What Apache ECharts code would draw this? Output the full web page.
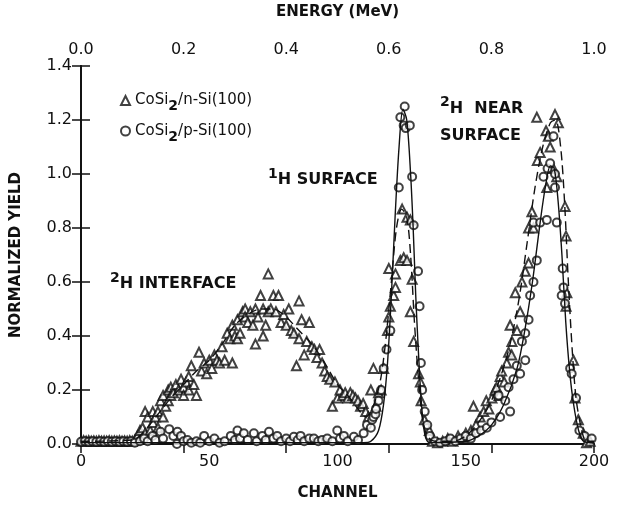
<!DOCTYPE html>
<html>
<head>
<meta charset="utf-8">
<script src="https://cdn.jsdelivr.net/npm/echarts@6/dist/echarts.min.js"></script>
<style>
  html, body { margin: 0; padding: 0; background: #fff; }
  #chart { width: 618px; height: 506px; }
</style>
</head>
<body>
<div id="chart"></div>
<script>
// [channel, normalized yield]
var triN = [
  [0,0.01],[1,0.012],[2,0.01],[3,0.012],[4,0.01],[5,0.011],[6,0.01],[7,0.012],[8,0.01],[9,0.011],
  [10,0.01],[11,0.012],[12,0.01],[13,0.011],[14,0.01],[15,0.012],[16,0.01],[17,0.011],[18,0.01],[19,0.012],
  [20,0.01],[21,0.015],[22,0.03],[23,0.05],[24,0.06],[25,0.04],[25,0.12],[26,0.1],[27,0.05],[28,0.12],
  [28,0.08],[29,0.1],[30,0.06],[30,0.12],[31,0.16],[32,0.1],[32,0.18],[33,0.14],[34,0.2],[34,0.16],
  [35,0.21],[35,0.18],[36,0.19],[37,0.22],[38,0.2],[39,0.24],[40,0.21],[40,0.18],[41,0.23],[42,0.2],
  [42,0.25],[43,0.29],[44,0.22],[45,0.18],[46,0.34],[47,0.27],[48,0.3],[49,0.26],[50,0.31],[51,0.28],
  [52,0.33],[53,0.31],[54,0.3],[55,0.36],[56,0.31],[57,0.41],[58,0.39],[59,0.44],[59,0.3],[60,0.4],
  [61,0.46],[61,0.39],[62,0.41],[63,0.49],[64,0.5],[64,0.47],[65,0.45],[66,0.49],[67,0.44],[68,0.37],
  [68,0.5],[69,0.47],[70,0.55],[71,0.4],[71,0.5],[72,0.44],[73,0.63],[73,0.49],[74,0.5],[75,0.55],
  [76,0.49],[77,0.55],[78,0.45],[79,0.48],[80,0.44],[81,0.5],[82,0.42],[83,0.41],[84,0.29],[85,0.53],
  [85,0.39],[86,0.46],[87,0.33],[88,0.38],[89,0.45],[90,0.36],[91,0.35],[92,0.32],[93,0.35],[94,0.3],
  [95,0.27],[96,0.25],[97,0.24],[98,0.14],[99,0.23],[100,0.17],[101,0.2],[102,0.18],[103,0.19],[104,0.17],
  [105,0.19],[106,0.18],[107,0.17],[108,0.16],[109,0.14],[110,0.15],[111,0.12],[112,0.1],[113,0.2],[114,0.28],
  [115,0.14],[116,0.19],[117,0.2],[118,0.28],[119.5,0.42],[120,0.47],[120,0.65],[120.6,0.51],[121.9,0.55],[122.6,0.58],
  [122.6,0.63],[124.5,0.68],[125.2,0.87],[125.8,0.69],[127.1,0.84],[127.1,0.68],[128.4,0.83],[129.1,0.61],[128.4,0.49],[129.7,0.38],
  [131.6,0.26],[132.3,0.23],[132.6,0.16],[133.9,0.09],[135.8,0.05],[137,0.01],[139,0.005],[141,0.01],[143,0.02],[145,0.01],
  [147,0.03],[149,0.02],[150,0.04],[152,0.05],[153,0.14],[154,0.07],[155.6,0.1],[157,0.12],[158,0.16],[159,0.13],
  [160.2,0.17],[161.4,0.2],[162,0.21],[163,0.18],[163.4,0.25],[164,0.27],[165,0.23],[166,0.3],[166.7,0.34],[167.9,0.33],
  [167.3,0.44],[168,0.38],[169.3,0.56],[170,0.42],[171.2,0.49],[171.9,0.6],[173.2,0.64],[174.5,0.67],[174.5,0.8],[175.8,0.86],
  [176.4,0.8],[177.7,1.21],[177.9,1.05],[179,1.08],[181.3,1.16],[181.6,0.95],[182.2,1.14],[182.9,1.1],[184.2,1.02],[184.8,1.22],
  [185.5,0.99],[186.1,1.19],[188.7,0.88],[189.1,0.77],[189.4,0.56],[189.1,0.51],[192,0.31],[192.6,0.17],[193.9,0.09],[195.8,0.04],
  [197.1,0.005],[198.5,0.01]
];
var cirP = [
  [0,0.008],[1.5,0.01],[3,0.008],[4.5,0.01],[6,0.008],[7.5,0.01],[9,0.008],[10.5,0.01],[12,0.008],[13.5,0.01],
  [15,0.008],[16.5,0.01],[18,0.008],[19.5,0.01],[21,0.005],[23,0.01],[24.6,0.02],[26,0.01],[27.9,0.03],[29,0.015],
  [31,0.045],[32,0.02],[34.4,0.055],[36,0.03],[37.6,0.045],[37.4,0.0],[39,0.03],[40,0.01],[41.5,0.015],[43,0.005],
  [45,0.01],[46.5,0.005],[48,0.03],[50,0.01],[52,0.02],[54,0.005],[56,0.01],[58.4,0.03],[60,0.015],[61,0.05],
  [62,0.02],[63.5,0.04],[65,0.015],[67.4,0.04],[68.5,0.01],[70.7,0.03],[72,0.015],[73.3,0.045],[75,0.02],[76.5,0.03],
  [78,0.01],[80,0.02],[81.5,0.01],[83,0.027],[84.5,0.015],[85.6,0.03],[87,0.01],[89,0.02],[90.8,0.02],[92.5,0.01],
  [94,0.015],[96,0.02],[98,0.01],[99.9,0.05],[101,0.02],[102.5,0.03],[104,0.01],[106.4,0.027],[108,0.015],[110.2,0.04],
  [111.5,0.07],[113,0.06],[113.5,0.09],[114,0.1],[114.8,0.11],[115,0.13],[116,0.16],[117,0.2],[118,0.28],[119.1,0.35],
  [120.6,0.42],[123.9,0.95],[124.5,1.21],[125.8,1.18],[126.2,1.25],[126.6,1.17],[128.2,1.18],[129.1,0.99],[129.7,0.81],[131.4,0.64],
  [132,0.51],[132.5,0.3],[133,0.2],[134,0.12],[135,0.07],[136,0.03],[138,0.01],[140,0.005],[142,0.01],[144,0.02],
  [146,0.01],[148,0.02],[150,0.03],[152,0.02],[154,0.04],[156,0.05],[158.2,0.06],[160,0.08],[162.8,0.18],[163.4,0.1],
  [165.4,0.16],[166.7,0.21],[167.3,0.12],[168.6,0.24],[169.9,0.29],[171.2,0.26],[171.9,0.38],[173.2,0.41],[173.2,0.31],[174.5,0.46],
  [175.1,0.55],[176.4,0.6],[176.4,0.82],[177.7,0.68],[179,0.82],[180.3,0.99],[181.6,0.83],[181.9,1.02],[182.9,1.04],[184.2,1.14],
  [184.8,1.0],[184.8,0.95],[185.5,0.82],[187.8,0.65],[188.1,0.58],[187.4,0.55],[188.7,0.52],[190.7,0.28],[191.3,0.26],[193,0.17],
  [194.3,0.05],[196.3,0.03],[199.1,0.02]
];
// fitted curves
var fitSolid = [
  [0,0.005],[40,0.005],[80,0.005],[110,0.005],[113,0.01],[116,0.05],[118,0.15],[119.5,0.3],[121,0.55],[122.5,0.85],
  [124,1.1],[125.5,1.24],[127,1.2],[128.5,1.0],[129.5,0.8],[130.5,0.55],[131.5,0.35],[132.5,0.18],[133.5,0.07],[134.5,0.02],
  [136,0.005],[150,0.01],[155,0.03],[160,0.07],[165,0.15],[170,0.28],[173,0.42],[176,0.6],[179,0.82],[181,0.95],
  [183,1.03],[184.5,1.02],[186,0.9],[187.5,0.7],[189,0.45],[190.5,0.27],[192,0.15],[194,0.05],[196,0.01],[200,0.005]
];
var fitDashed = [
  [0,0.01],[20,0.015],[24,0.04],[30,0.11],[35,0.17],[40,0.22],[45,0.27],[50,0.31],[55,0.37],[60,0.44],
  [65,0.48],[70,0.5],[75,0.5],[80,0.47],[85,0.42],[90,0.37],[95,0.3],[100,0.22],[104,0.18],[108,0.13],
  [111,0.1],[113,0.12],[115,0.17],[117,0.25],[119,0.4],[121,0.6],[123,0.8],[125,0.87],[127,0.84],[128.5,0.7],
  [130,0.45],[131.5,0.25],[133,0.1],[135,0.03],[138,0.01],[145,0.01],[150,0.03],[155,0.08],[160,0.16],[165,0.29],
  [168,0.4],[171,0.55],[174,0.75],[177,0.95],[180,1.1],[183,1.19],[185,1.2],[187,1.1],[188.5,0.9],[190,0.6],
  [191.5,0.35],[193,0.17],[195,0.06],[197,0.01],[200,0.01]
];
var seriesNames = ['CoSi2/n-Si(100)', 'CoSi2/p-Si(100)'];

var ink = '#111';
var font = 'DejaVu Sans';

var chart = echarts.init(document.getElementById('chart'));
chart.setOption({
  backgroundColor: '#fff',
  animation: false,
  grid: { left: 81, right: 24, top: 63, bottom: 55 },
  legend: {
    left: 115, top: 88, orient: 'vertical', itemGap: 10,
    itemWidth: 9, itemHeight: 9,
    data: seriesNames,
    formatter: function (n) {
      var p = n.split('2');
      return '{a|' + p[0] + '}{s|2}{a|' + p[1] + '}';
    },
    textStyle: {
      rich: {
        a: { fontFamily: font, fontSize: 15, color: ink, lineHeight: 18 },
        s: { fontFamily: font, fontSize: 14, fontWeight: 'bold', color: ink, verticalAlign: 'bottom', lineHeight: 14, padding: [0, 0, -4, 0] }
      }
    }
  },
  xAxis: [{
    type: 'value', min: 0, max: 200, interval: 50, position: 'bottom',
    name: 'CHANNEL', nameLocation: 'middle', nameGap: 42,
    nameTextStyle: { fontFamily: font, fontSize: 15, fontWeight: 'bold', color: ink },
    axisLine: { lineStyle: { color: ink, width: 1.8 } },
    axisTick: { show: false },
    splitLine: { show: false },
    axisLabel: { fontFamily: font, fontSize: 16, color: ink, margin: 10 }
  }, {
    type: 'value', min: 0, max: 1, interval: 0.2, position: 'top',
    name: 'ENERGY (MeV)', nameLocation: 'middle', nameGap: 46,
    nameTextStyle: { fontFamily: font, fontSize: 15, fontWeight: 'bold', color: ink },
    axisLine: { lineStyle: { color: ink, width: 1.8 } },
    axisTick: { inside: true, length: 9, lineStyle: { color: ink, width: 1.5 } },
    splitLine: { show: false },
    axisLabel: { fontFamily: font, fontSize: 16, color: ink, margin: 8,
      formatter: function (v) { return v.toFixed(1); } }
  }],
  yAxis: [{
    type: 'value', min: 0, max: 1.4, interval: 0.2, position: 'left',
    name: 'NORMALIZED YIELD', nameLocation: 'middle', nameGap: 57,
    nameTextStyle: { fontFamily: font, fontSize: 15, fontWeight: 'bold', color: ink },
    axisLine: { show: true, lineStyle: { color: ink, width: 1.8 } },
    axisTick: { show: true, inside: true, length: 9, lineStyle: { color: ink, width: 1.5 } },
    splitLine: { show: false },
    axisLabel: { fontFamily: font, fontSize: 16, color: ink, margin: 9,
      formatter: function (v) { return v.toFixed(1); } }
  }, {
    type: 'value', min: 0, max: 1.4, interval: 0.2, position: 'right',
    axisLine: { show: true, lineStyle: { color: ink, width: 1.8 } },
    axisTick: { show: true, inside: true, length: 9, lineStyle: { color: ink, width: 1.5 } },
    splitLine: { show: false },
    axisLabel: { show: false }
  }],
  series: [{
    name: 'fitSolid', type: 'line', data: fitSolid, smooth: 0.3, showSymbol: false, silent: true,
    lineStyle: { color: ink, width: 1.4 }
  }, {
    name: 'fitDashed', type: 'line', data: fitDashed, smooth: 0.3, showSymbol: false, silent: true,
    lineStyle: { color: ink, width: 1.4, type: [9, 5] }
  }, {
    name: seriesNames[0], type: 'scatter', data: triN,
    symbol: 'emptyTriangle', symbolSize: 9,
    itemStyle: { color: ink, borderWidth: 1.2 }
  }, {
    name: seriesNames[1], type: 'scatter', data: cirP,
    symbol: 'emptyCircle', symbolSize: 8,
    itemStyle: { color: ink, borderWidth: 1.2 }
  }],
  graphic: [{
    type: 'text', left: 110, top: 271,
    style: {
      text: '{u|2}{t|H INTERFACE}',
      rich: {
        u: { fontFamily: font, fontSize: 14, fontWeight: 'bold', fill: ink, verticalAlign: 'top', lineHeight: 14 },
        t: { fontFamily: font, fontSize: 16, fontWeight: 'bold', fill: ink, lineHeight: 26 }
      }
    }
  }, {
    type: 'text', left: 268, top: 167,
    style: {
      text: '{u|1}{t|H SURFACE}',
      rich: {
        u: { fontFamily: font, fontSize: 14, fontWeight: 'bold', fill: ink, verticalAlign: 'top', lineHeight: 14 },
        t: { fontFamily: font, fontSize: 16, fontWeight: 'bold', fill: ink, lineHeight: 26 }
      }
    }
  }, {
    type: 'text', left: 440, top: 95,
    style: {
      text: '{u|2}{t|H  NEAR}\n{t|SURFACE}',
      rich: {
        u: { fontFamily: font, fontSize: 14, fontWeight: 'bold', fill: ink, verticalAlign: 'top', lineHeight: 14 },
        t: { fontFamily: font, fontSize: 16, fontWeight: 'bold', fill: ink, lineHeight: 27 }
      }
    }
  }]
});
</script>
</body>
</html>
